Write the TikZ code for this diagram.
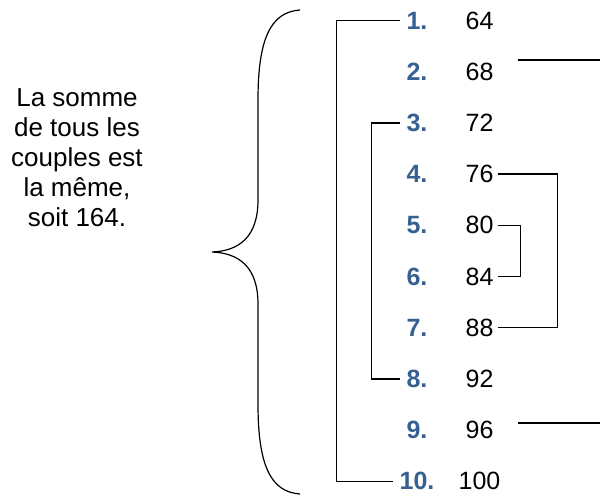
\documentclass[tikz,border=0pt]{standalone}
\usepackage{fontspec}
\setmainfont{Liberation Sans}
\usetikzlibrary{positioning}
\definecolor{rankblue}{RGB}{55,96,146}
\tikzstyle{rank} = [
    font=\fontsize{25}{30}\selectfont\bfseries,
    text=rankblue,
    inner sep=6pt
]
\tikzstyle{amount} = [
    font=\fontsize{25}{30}\selectfont,
    inner sep=4pt
]
\tikzstyle{note} = [
    font=\fontsize{26}{30}\selectfont,
    align=center
]
\tikzstyle{link} = [line width=1.4pt]

\begin{document}
\begin{tikzpicture}[x=1pt, y=-1pt, node distance=51.2pt]
\useasboundingbox (0,0) rectangle (600,495);

\node (txt) [note] at (77,158)
{La somme\\de tous les\\couples est\\la même,\\soit 164.};

\node (n1) [rank] at (417,20.5) {1.};
\node (n2) [rank, below of=n1] {2.};
\node (n3) [rank, below of=n2] {3.};
\node (n4) [rank, below of=n3] {4.};
\node (n5) [rank, below of=n4] {5.};
\node (n6) [rank, below of=n5] {6.};
\node (n7) [rank, below of=n6] {7.};
\node (n8) [rank, below of=n7] {8.};
\node (n9) [rank, below of=n8] {9.};
\node (n10) [rank, below of=n9] {10.};

\node (v1) [amount] at (479.5,20.5) {64};
\node (v2) [amount, below of=v1] {68};
\node (v3) [amount, below of=v2] {72};
\node (v4) [amount, below of=v3] {76};
\node (v5) [amount, below of=v4] {80};
\node (v6) [amount, below of=v5] {84};
\node (v7) [amount, below of=v6] {88};
\node (v8) [amount, below of=v7] {92};
\node (v9) [amount, below of=v8] {96};
\node (v10) [amount, below of=v9] {100};

\coordinate (e2) at (600,60);
\coordinate (e9) at (600,423);

\draw [link] (n1.west) -- ++(-64,0) |- (n10.west);
\draw [link] (n3.west) -- ++(-29,0) |- (n8.west);
\draw [link] (v4.east) -- ++(60,0) |- (v7.east);
\draw [link] (v5.east) -- ++(23,0) |- (v6.east);
\draw [link] ([xshift=20pt]v2.east |- e2) -- (e2);
\draw [link] ([xshift=20pt]v9.east |- e9) -- (e9);

% brace
\draw [line width=1.2pt] (300,10) .. controls (270,12) and (258,40) .. (258,100)
    -- (258,200) .. controls (258,238) and (238,251) .. (212,252)
    .. controls (238,253) and (258,266) .. (258,304)
    -- (258,404) .. controls (258,464) and (270,492) .. (300,494);

\end{tikzpicture}
\end{document}
